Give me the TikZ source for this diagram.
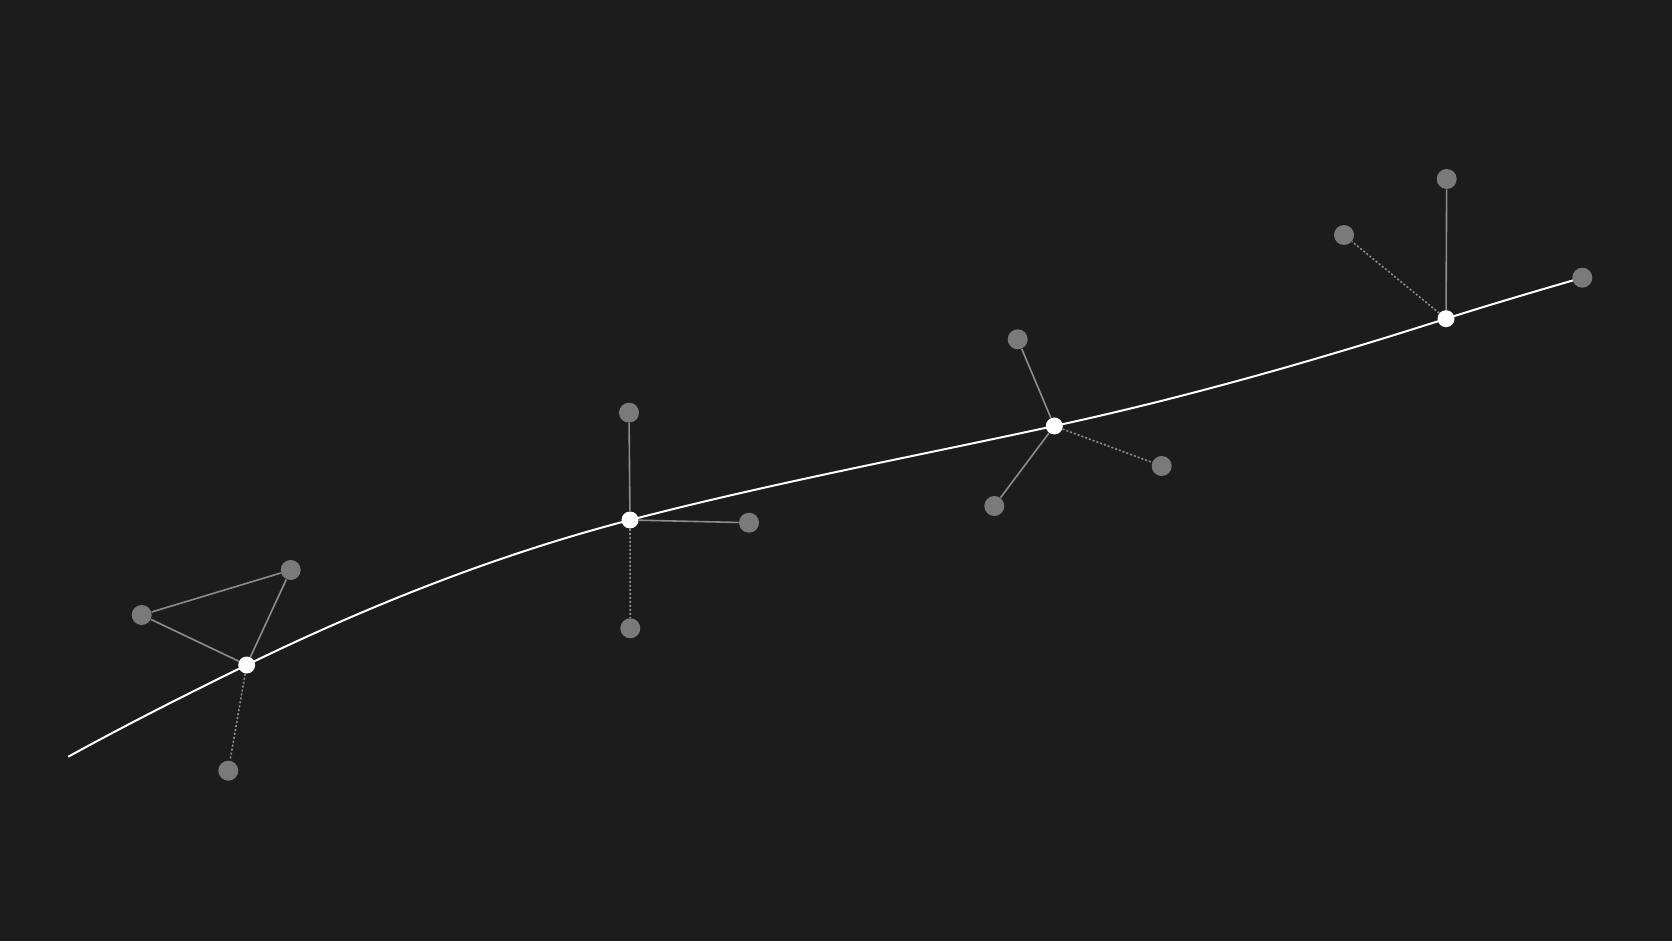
\documentclass[tikz,border=0pt]{standalone}
\pgfdeclarelayer{bg}
\pgfdeclarelayer{lines}
\pgfsetlayers{bg,lines,main}
\definecolor{bgc}{HTML}{1C1C1C}
\definecolor{leaf}{HTML}{7A7A7A}
\definecolor{spoke}{HTML}{8C8C8C}
\tikzset{
  hub/.style={circle,fill=white,draw=none,minimum size=8.5pt,inner sep=0pt},
  leafnode/.style={circle,fill=leaf,draw=none,minimum size=10pt,inner sep=0pt},
  spokeline/.style={draw=spoke,line width=0.8pt},
  dotline/.style={draw=spoke,line width=0.8pt,dash pattern=on 1pt off 1pt},
  mainline/.style={draw=white,line width=1pt}
}
\begin{document}
\begin{tikzpicture}[x=0.5pt,y=-0.5pt]
\begin{pgfonlayer}{bg}
\fill[bgc] (0,0) rectangle (1672,941);
\end{pgfonlayer}
\useasboundingbox (0,0) rectangle (1672,941);
% hubs
\node[hub] (h1) at (246.7,665) {};
\node[hub] (h2) at (630,520) {};
\node[hub] (h3) at (1054.3,426) {};
\node[hub] (h4) at (1446,318.7) {};
\coordinate (s) at (68.3,756.7);
% leaves
\node[leafnode] (a1) at (141.7,615) {};
\node[leafnode] (a2) at (290.7,570) {};
\node[leafnode] (a3) at (228.3,770.7) {};
\node[leafnode] (b1) at (629,412.7) {};
\node[leafnode] (b2) at (749,522.7) {};
\node[leafnode] (b3) at (630.3,628.3) {};
\node[leafnode] (c1) at (1017.7,339.3) {};
\node[leafnode] (c2) at (1161.7,466) {};
\node[leafnode] (c3) at (994.3,506) {};
\node[leafnode] (d1) at (1446.7,179) {};
\node[leafnode] (d2) at (1344,235) {};
\node[leafnode] (d3) at (1582.3,277.7) {};
\begin{pgfonlayer}{lines}
\draw[mainline] (s) .. controls (127.8,724) and (187.2,694) .. (h1.center)
  .. controls (374.5,602.8) and (502.2,553.2) .. (h2.center)
  .. controls (771.4,483.2) and (912.9,456.7) .. (h3.center)
  .. controls (1184.9,397.7) and (1315.4,360.5) .. (h4.center)
  .. controls (1491.4,304.2) and (1536.9,290.9) .. (d3.center);
\draw[spokeline] (a1) -- (a2);
\draw[spokeline] (a1) -- (h1);
\draw[spokeline] (a2) -- (h1);
\draw[dotline] (h1) -- (a3);
\draw[spokeline] (h2) -- (b1);
\draw[spokeline] (h2) -- (b2);
\draw[dotline] (h2) -- (b3);
\draw[spokeline] (h3) -- (c1);
\draw[spokeline] (h3) -- (c3);
\draw[dotline] (h3) -- (c2);
\draw[spokeline] (h4) -- (d1);
\draw[dotline] (h4) -- (d2);
\end{pgfonlayer}
\end{tikzpicture}
\end{document}
